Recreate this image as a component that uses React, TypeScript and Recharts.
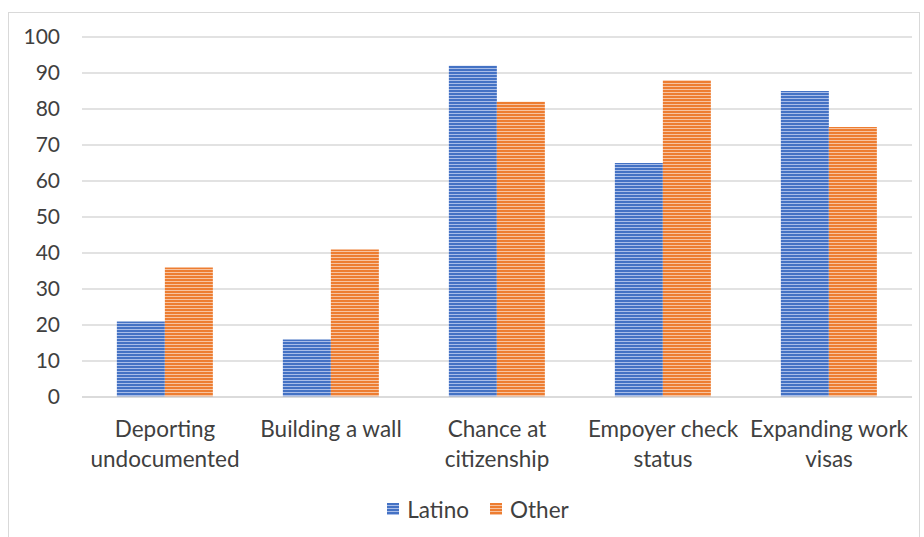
import { BarChart, Bar, XAxis, YAxis, CartesianGrid } from 'recharts'

const categories = [
  'Deporting\nundocumented',
  'Building a wall',
  'Chance at\ncitizenship',
  'Empoyer check\nstatus',
  'Expanding work\nvisas',
]
const latino = [21, 16, 92, 65, 85]
const other = [36, 41, 82, 88, 75]
const yTicks = [0, 10, 20, 30, 40, 50, 60, 70, 80, 90, 100]

const data = categories.map((c, i) => ({ name: c, latino: latino[i], other: other[i] }))

const FONT = 'Lato, "Open Sans", sans-serif'

function CatTick({ x, y, payload }: any) {
  const lines = String(payload.value).split('\n')
  return (
    <text x={x} y={y} textAnchor="middle" fontFamily={FONT} fontSize={22.5} fill="#404040">
      {lines.map((l, i) => (
        <tspan key={i} x={x} dy={i === 0 ? 32 : 30}>
          {l}
        </tspan>
      ))}
    </text>
  )
}

function LegendRow() {
  const item = (fill: string, label: string, last: boolean) => (
    <span style={{ display: 'inline-flex', alignItems: 'center', marginRight: last ? 0 : 21 }}>
      <svg width={12} height={12} style={{ marginRight: 8 }}>
        <rect width={12} height={12} fill={fill} />
      </svg>
      {label}
    </span>
  )
  return (
    <div
      style={{
        position: 'absolute',
        top: 493,
        left: 0,
        width: 924,
        textAlign: 'center',
        fontFamily: FONT,
        fontSize: 22.5,
        color: '#404040',
        paddingLeft: 32,
        boxSizing: 'border-box',
      }}
    >
      {item('url(#stripeBlueL)', 'Latino', false)}
      {item('url(#stripeOrangeL)', 'Other', true)}
    </div>
  )
}

export default function App() {
  return (
    <div style={{ position: 'absolute', left: 0, top: 0, width: 924, height: 537, background: '#fff', overflow: 'hidden' }}>
      <div
        style={{
          position: 'absolute',
          left: 8,
          top: 12,
          width: 912,
          height: 540,
          border: '1px solid #d9d9d9',
          boxSizing: 'border-box',
        }}
      />
      <svg width={0} height={0} style={{ position: 'absolute' }}>
        <defs>
          <pattern id="stripeBlueL" width={4} height={3} patternUnits="userSpaceOnUse">
            <rect width={4} height={3} fill="#4472C4" />
            <rect y={2} width={4} height={1} fill="#A9BDE8" />
          </pattern>
          <pattern id="stripeOrangeL" width={4} height={3} patternUnits="userSpaceOnUse">
            <rect width={4} height={3} fill="#ED7D31" />
            <rect y={2} width={4} height={1} fill="#F7C3A0" />
          </pattern>
        </defs>
      </svg>
      <div style={{ position: 'absolute', left: 0, top: 0 }}>
        <BarChart
          width={924}
          height={537}
          data={data}
          margin={{ top: 37, right: 12, left: 0, bottom: 40 }}
          barCategoryGap="21%"
          barGap={0}
        >
          <defs>
            <pattern id="stripeBlue" width={4} height={3} patternUnits="userSpaceOnUse">
              <rect width={4} height={3} fill="#4472C4" />
              <rect y={2} width={4} height={1} fill="#A9BDE8" />
            </pattern>
            <pattern id="stripeOrange" width={4} height={3} patternUnits="userSpaceOnUse">
              <rect width={4} height={3} fill="#ED7D31" />
              <rect y={2} width={4} height={1} fill="#F7C3A0" />
            </pattern>
          </defs>
          <CartesianGrid vertical={false} stroke="#d9d9d9" strokeWidth={1.5} />
          <XAxis
            dataKey="name"
            tick={<CatTick />}
            tickLine={false}
            axisLine={{ stroke: '#d9d9d9', strokeWidth: 1.5 }}
            interval={0}
            height={100}
          />
          <YAxis
            width={82}
            domain={[0, 100]}
            ticks={yTicks}
            interval={0}
            tickLine={false}
            axisLine={false}
            tickSize={0}
            tickMargin={22}
            tick={{ fontFamily: FONT, fontSize: 21, fill: '#404040' }}
          />
          <Bar dataKey="latino" fill="url(#stripeBlue)" isAnimationActive={false} />
          <Bar dataKey="other" fill="url(#stripeOrange)" isAnimationActive={false} />
        </BarChart>
      </div>
      <LegendRow />
    </div>
  )
}
